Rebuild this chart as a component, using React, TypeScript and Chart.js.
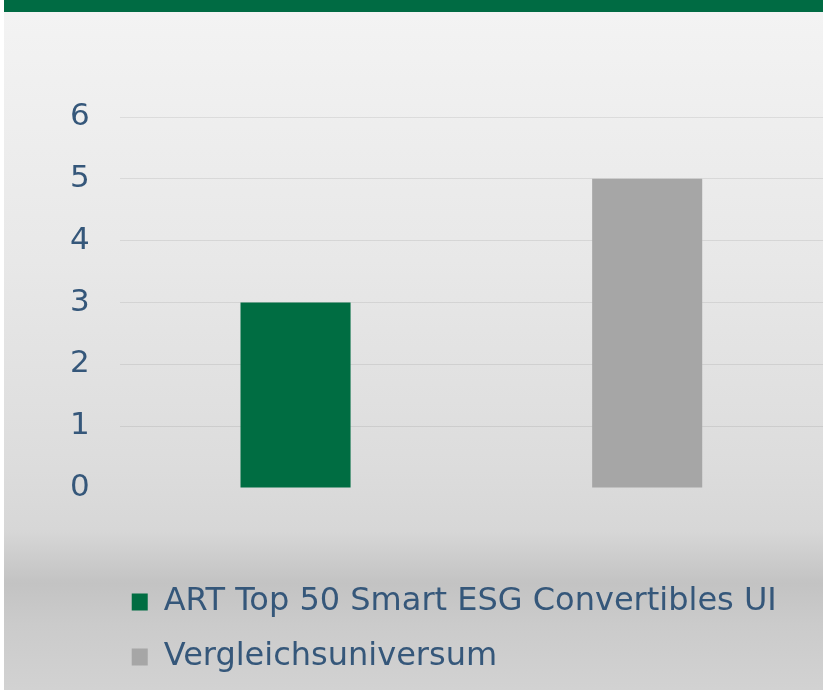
import React, { useEffect, useRef } from "react";
import { Chart, registerables } from "chart.js";

Chart.register(...registerables);

const categories = [""];
const seriesLabels = ["ART Top 50 Smart ESG Convertibles UI", "Vergleichsuniversum"];
const fundValues = [3];
const peerValues = [5];
const yTicks = [0, 1, 2, 3, 4, 5, 6];

const GREEN = "#006d42";
const GRAY = "#a6a6a6";
const TEXT = "#35577a";

const legendShift = {
  id: "legendShift",
  afterUpdate(chart: any) {
    if (chart.legend) {
      chart.legend.left = chart.chartArea.left - 11;
    }
  },
};

export default function App() {
  const ref = useRef<HTMLCanvasElement | null>(null);
  useEffect(() => {
    if (!ref.current) return;
    const chart = new Chart(ref.current, {
      type: "bar",
      data: {
        labels: categories,
        datasets: [
          {
            label: seriesLabels[0],
            data: fundValues,
            backgroundColor: GREEN,
            borderWidth: 0,
            categoryPercentage: 1,
            barPercentage: 0.313,
          },
          {
            label: seriesLabels[1],
            data: peerValues,
            backgroundColor: GRAY,
            borderWidth: 0,
            categoryPercentage: 1,
            barPercentage: 0.313,
          },
        ],
      },
      options: {
        responsive: false,
        animation: false,
        layout: { padding: { left: 36, top: 105, right: 0, bottom: 7 } },
        scales: {
          x: {
            display: true,
            grid: { display: false },
            border: { display: false },
            ticks: { display: false },
            afterFit(scale: any) {
              scale.height = 75;
            },
          } as any,
          y: {
            min: 0,
            max: 6,
            afterBuildTicks(scale: any) {
              scale.ticks = yTicks.map((v) => ({ value: v }));
            },
            border: { display: false },
            grid: {
              drawTicks: false,
              lineWidth: 1,
              color: (ctx: any) => (ctx.tick && ctx.tick.value === 0 ? "rgba(0,0,0,0)" : "rgba(0,0,0,0.08)"),
            },
            ticks: {
              padding: 30,
              color: TEXT,
              font: { family: "'DejaVu Sans'", size: 31 },
            },
          },
        },
        plugins: {
          tooltip: { enabled: false },
          legend: {
            position: "bottom",
            align: "start",
            fullSize: false,
            labels: {
              boxWidth: 16,
              boxHeight: 17,
              padding: 23,
              color: TEXT,
              font: { family: "'DejaVu Sans'", size: 32 },
            },
          },
        },
      },
      plugins: [legendShift],
    } as any);
    return () => chart.destroy();
  }, []);

  return (
    <div style={{ position: "fixed", left: 0, top: 0, width: 823, height: 690, background: "#ffffff" }}>
      <div
        style={{
          position: "absolute",
          left: 4,
          top: 0,
          width: 819,
          height: 690,
          background:
            "linear-gradient(to bottom, #006b43 0px, #006b43 12px, #f3f3f3 12px, #e8e8e8 260px, #dcdcdc 470px, #d7d7d7 530px, #c3c3c3 583px, #cbcbcb 625px, #d2d2d2 690px)",
        }}
      >
        <canvas ref={ref} width={819} height={678} style={{ position: "absolute", left: 0, top: 12 }} />
      </div>
    </div>
  );
}
